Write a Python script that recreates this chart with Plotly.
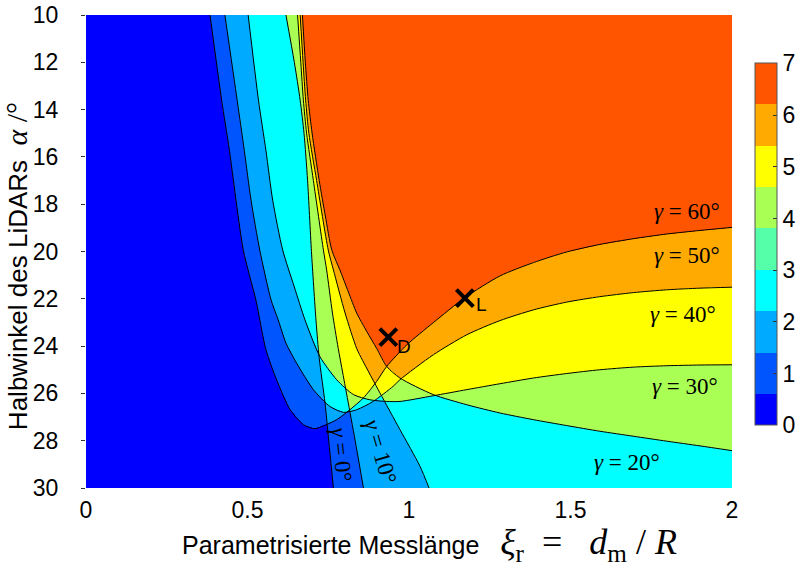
import numpy as np
import plotly.graph_objects as go

# ---- boundary curves (x = xi_r, a = alpha in degrees) ----
# U-shaped / right-edge curves: alpha as function of x
g60_x = [0.384, 0.420, 0.444, 0.487, 0.526, 0.557, 0.590, 0.632, 0.673, 0.709, 0.776, 0.817, 0.859,
         0.900, 0.931, 0.993, 1.075, 1.173, 1.282, 1.385, 1.488, 1.591, 1.694, 1.798, 1.901, 2.0]
g60_a = [10.0, 13.6, 15.72, 19.94, 22.05, 24.15, 25.42, 26.69, 27.32, 27.49, 27.11, 26.69, 26.19,
         25.49, 24.86, 23.95, 23.01, 21.95, 21.03, 20.47, 20.02, 19.70, 19.46, 19.26, 19.11, 18.98]

g50_x = [0.430, 0.468, 0.490, 0.511, 0.538, 0.573, 0.595, 0.619, 0.652, 0.704, 0.755, 0.797, 0.838,
         0.889, 0.951, 0.972, 1.075, 1.179, 1.282, 1.385, 1.488, 1.591, 1.694, 1.798, 1.901, 2.0]
g50_a = [10.0, 13.6, 15.72, 17.83, 19.94, 22.05, 22.89, 23.87, 24.72, 25.84, 26.55, 26.80, 26.69,
         26.34, 25.70, 25.42, 24.37, 23.52, 22.92, 22.47, 22.14, 21.91, 21.74, 21.62, 21.55, 21.51]

g40_x = [0.502, 0.534, 0.557, 0.578, 0.609, 0.645, 0.678, 0.724, 0.776, 0.828, 0.879, 0.931, 0.972,
         1.075, 1.179, 1.282, 1.385, 1.488, 1.591, 1.694, 1.798, 1.901, 2.0]
g40_a = [10.0, 13.6, 15.72, 17.83, 19.94, 21.5, 22.89, 24.44, 25.42, 26.05, 26.27, 26.34, 26.34,
         26.10, 25.84, 25.59, 25.35, 25.16, 25.0, 24.89, 24.83, 24.80, 24.79]

g30_x = [0.670, 0.679, 0.688, 0.700, 0.722, 0.741, 0.761, 0.786, 0.812, 0.838, 0.870, 0.900, 0.931,
         0.972, 1.075, 1.179, 1.282, 1.385, 1.488, 1.591, 1.694, 1.798, 1.901, 2.0]
g30_a = [10.0, 12.0, 13.6, 15.0, 17.0, 18.5, 19.94, 20.78, 21.7, 22.6, 23.4, 24.1, 24.86,
         25.35, 26.05, 26.48, 26.83, 27.11, 27.36, 27.60, 27.81, 28.02, 28.22, 28.42]

# near-vertical curves: x as function of alpha
g20_a = [10.0, 12.0, 13.6, 15.0, 17.0, 19.94, 20.78, 22.6, 24.1, 24.6, 25.98, 27.53, 29.08, 30.0]
g20_x = [0.663, 0.672, 0.680, 0.690, 0.714, 0.750, 0.766, 0.802, 0.838, 0.856, 0.910, 0.972, 1.034, 1.062]

g10_a = [10.0, 12.0, 13.6, 15.0, 17.0, 19.94, 20.78, 22.6, 24.1, 26.4, 28.2, 30.0]
g10_x = [0.655, 0.665, 0.673, 0.683, 0.704, 0.735, 0.745, 0.763, 0.781, 0.812, 0.836, 0.859]

g0_a = [10.0, 12.0, 13.6, 15.0, 17.0, 20.0, 22.9, 24.5, 26.4, 28.2, 30.0]
g0_x = [0.619, 0.645, 0.663, 0.675, 0.686, 0.698, 0.712, 0.722, 0.740, 0.753, 0.766]

# design points
pt_names = ["D", "L"]
pt_x = [0.936, 1.173]
pt_a = [23.62, 21.97]

x_ticks = [0, 0.5, 1, 1.5, 2]
x_ticktext = ["0", "0.5", "1", "1.5", "2"]
y_ticks = list(range(10, 31, 2))
cb_ticks = list(range(0, 8))

level_colors = ["#0000FF", "#0055FF", "#00AAFF", "#00FFFF", "#AAFF55", "#FFFF00", "#FFAA00", "#FF5500"]
cb_colors = ["#0000FF", "#0055FF", "#00AAFF", "#00FFFF", "#55FFAA", "#AAFF55", "#FFFF00", "#FFAA00", "#FF5500"]
cb_bounds = [0, 0.6, 1.4, 2.2, 3.0, 3.8, 4.6, 5.4, 6.2, 7.0]

# ---- count of satisfied conditions on a pixel grid ----
NX, NY = 646, 474
xc = np.linspace(0, 2, NX + 1)
xc = (xc[:-1] + xc[1:]) / 2
ac = np.linspace(10, 30, NY + 1)
ac = (ac[:-1] + ac[1:]) / 2
X, A = np.meshgrid(xc, ac)
Z = np.zeros(X.shape, dtype=int)
for cx, ca in [(g60_x, g60_a), (g50_x, g50_a), (g40_x, g40_a), (g30_x, g30_a)]:
    cx = np.array(cx); ca = np.array(ca)
    Z += ((X >= cx[0]) & (A <= np.interp(X, cx, ca))).astype(int)
for ca, cx in [(g20_a, g20_x), (g10_a, g10_x), (g0_a, g0_x)]:
    Z += (X >= np.interp(A, np.array(ca), np.array(cx))).astype(int)

hm_scale = []
for i, c in enumerate(level_colors):
    hm_scale.append([i / 8, c])
    hm_scale.append([(i + 1) / 8, c])

cb_scale = []
for i, c in enumerate(cb_colors):
    cb_scale.append([cb_bounds[i] / 7, c])
    cb_scale.append([cb_bounds[i + 1] / 7, c])

fig = go.Figure()
fig.add_trace(go.Heatmap(x=xc, y=ac, z=Z, colorscale=hm_scale, zmin=-0.5, zmax=7.5,
                         showscale=False, hoverinfo="skip"))
# dummy heatmap (outside the visible range) carrying the colour bar
fig.add_trace(go.Heatmap(x=[10, 11], y=[50], z=[[0, 7]], colorscale=cb_scale, zmin=0, zmax=7,
                         hoverinfo="skip",
                         colorbar=dict(x=1.0356, xanchor="left", y=0.515, yanchor="middle",
                                       len=0.766, lenmode="fraction", thickness=22,
                                       thicknessmode="pixels", outlinewidth=1, outlinecolor="#555",
                                       tickvals=cb_ticks, ticks="inside", ticklen=4, tickcolor="#333",
                                       tickfont=dict(size=23, family="Liberation Sans", color="black"),
                                       xpad=0, ypad=0)))

for cx, ca in [(g60_x, g60_a), (g50_x, g50_a), (g40_x, g40_a), (g30_x, g30_a),
               (g20_x, g20_a), (g10_x, g10_a), (g0_x, g0_a)]:
    fig.add_trace(go.Scatter(x=cx, y=ca, mode="lines",
                             line=dict(color="black", width=1, shape="spline", smoothing=0.7),
                             hoverinfo="skip", showlegend=False))

fig.add_trace(go.Scatter(x=pt_x, y=pt_a, mode="markers",
                         marker=dict(symbol="x-thin", size=17, color="black",
                                     line=dict(color="black", width=4)),
                         hoverinfo="skip", showlegend=False))

serif = "Liberation Serif"
labels = [
    ("<i>γ</i> = 60°", 1.860, 18.32, 0),
    ("<i>γ</i> = 50°", 1.860, 20.15, 0),
    ("<i>γ</i> = 40°", 1.849, 22.68, 0),
    ("<i>γ</i> = 30°", 1.854, 25.70, 0),
    ("<i>γ</i> = 20°", 1.674, 28.94, 0),
    ("<i>γ</i> = 0°", 0.790, 28.59, 84),
    ("<i>γ</i> = 10°", 0.912, 28.45, 74),
]
for t, x, y, ang in labels:
    fig.add_annotation(x=x, y=y, text=t, showarrow=False, textangle=ang,
                       xanchor="center", yanchor="middle",
                       font=dict(family=serif, size=23, color="black"))

for name, dx, dy in [("D", 0.983, 24.02), ("L", 1.225, 22.26)]:
    fig.add_annotation(x=dx, y=dy, text=name, showarrow=False, xanchor="center", yanchor="middle",
                       font=dict(family="Liberation Sans", size=19, color="black"))

fig.add_annotation(xref="paper", yref="paper", x=0.532, y=-0.119, showarrow=False,
                   xanchor="center", yanchor="middle",
                   text='Parametrisierte Messlänge&nbsp;&nbsp;&nbsp;'
                        '<span style="font-family:Liberation Serif;font-size:36px">'
                        '<i>ξ</i><sub>r</sub>&nbsp;&nbsp;=&nbsp;&nbsp;&nbsp;<i>d</i><sub>m</sub>&nbsp;/&nbsp;<i>R</i></span>',
                   font=dict(family="Liberation Sans", size=25, color="black"))
fig.add_annotation(xref="paper", yref="paper", x=-0.1084, y=0.469, showarrow=False, textangle=-90,
                   xanchor="center", yanchor="middle",
                   text='Halbwinkel des LiDARs&nbsp;&nbsp;'
                        '<span style="font-family:Liberation Serif;font-size:30px">'
                        '<i>α</i>&nbsp;/°</span>',
                   font=dict(family="Liberation Sans", size=26, color="black"))

fig.update_layout(
    width=803, height=568,
    margin=dict(l=86, r=71, t=14.5, b=79.5, autoexpand=False),
    paper_bgcolor="white", plot_bgcolor="white",
    showlegend=False,
    xaxis=dict(range=[0, 2], tickvals=x_ticks, ticktext=x_ticktext, showgrid=False, zeroline=False,
               showline=False, ticks="", ticklabelstandoff=6,
               tickfont=dict(size=23, family="Liberation Sans", color="black")),
    yaxis=dict(range=[30, 10], tickvals=y_ticks, showgrid=False, zeroline=False, showline=False,
               ticks="outside", ticklen=4, tickcolor="#333", ticklabelstandoff=18,
               tickfont=dict(size=23, family="Liberation Sans", color="black")),
)

fig.write_html("out.html")
